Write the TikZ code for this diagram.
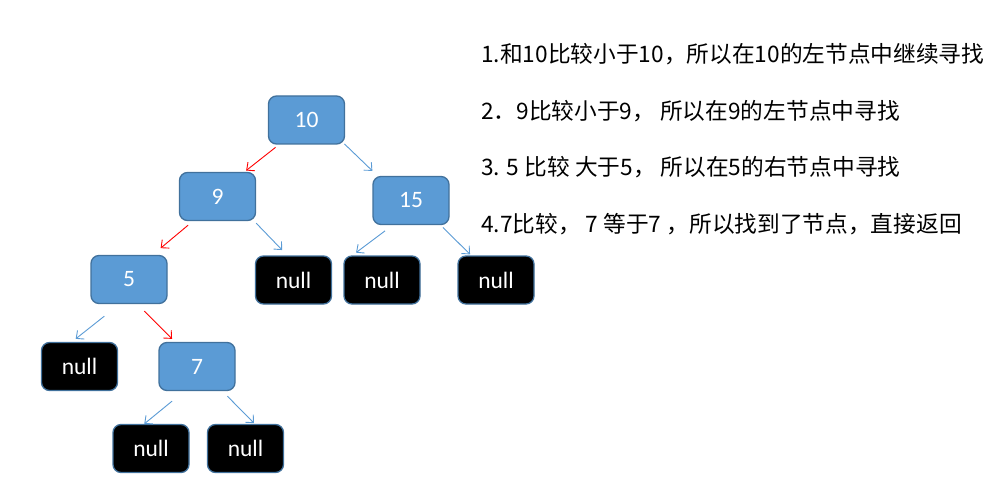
\documentclass[tikz,border=0pt]{standalone}
\usepackage{fontspec}
\setmainfont{Carlito}
\newfontfamily\cjk{Noto Sans CJK SC}
\usepackage{xcolor}
\usepackage{tikz}
\usetikzlibrary{arrows.meta}
\definecolor{boxblue}{HTML}{5B9BD5}
\definecolor{rimblue}{HTML}{41719C}

\begin{document}
\begin{tikzpicture}[x=1pt, y=-1pt,
    tnode/.style={draw=rimblue, line width=1.3pt, fill=boxblue, rounded corners=8pt,
        minimum width=76pt, minimum height=48pt, inner sep=0pt, text=white,
        font=\fontsize{23.5}{28}\selectfont},
    nullbox/.style={tnode, fill=black},
    link/.style={-{Straight Barb[length=6pt, width=11pt]}, boxblue, line width=0.9pt},
    walk/.style={link, red},
    note/.style={anchor=west, inner sep=0pt, font=\cjk\fontsize{22.7}{27}\selectfont}]
    \useasboundingbox (0,0) rectangle (1006,497);
    % tree
    \node[tnode] (n10) at (306.5,120) {10};
    \node[tnode] (n9) at (217.5,196.5) {9};
    \node[tnode] (n15) at (411,200.5) {15};
    \node[tnode] (n5) at (129,279.5) {5};
    \node[nullbox] (n9r) at (293.5,280) {null};
    \node[nullbox] (n15l) at (382,280) {null};
    \node[nullbox] (n15r) at (496,280) {null};
    \node[nullbox] (n5l) at (79.5,366.5) {null};
    \node[tnode] (n7) at (197,366.5) {7};
    \node[nullbox] (n7l) at (151,448.5) {null};
    \node[nullbox] (n7r) at (245.5,448.5) {null};
    % search path
    \draw[walk] ([shift={(7.7,2.7)}]n10.south west) -- ([shift={(-10,-1.3)}]n9.north east);
    \draw[walk] ([shift={(9.3,4)}]n9.south west) -- ([shift={(-7,-6.7)}]n5.north east);
    \draw[walk] ([shift={(15.3,7)}]n5.south) -- ([shift={(13.7,-3)}]n7.north west);
    % other edges
    \draw[link] ([shift={(-0.7,-0.7)}]n10.south east) -- ([shift={(0,-5)}]n15.north west);
    \draw[link] ([shift={(0,2)}]n9.south east) -- ([shift={(27.3,-5.3)}]n9r.north west);
    \draw[link] ([shift={(12.7,5.7)}]n15.south west) -- ([shift={(12.7,-2.7)}]n15l.north west);
    \draw[link] ([shift={(-6.7,2.3)}]n15.south east) -- ([shift={(12.7,-1)}]n15r.north west);
    \draw[link] ([shift={(14,12)}]n5.south west) -- ([shift={(-3.8,-3)}]n5l.north);
    \draw[link] ([shift={(13.7,10)}]n7.south west) -- ([shift={(-6.7,0)}]n7l.north);
    \draw[link] ([shift={(-8.3,5)}]n7.south east) -- ([shift={(8.5,-0.7)}]n7r.north);
    % steps
    \node[note] (s1) at (481,54) {1.和10比较小于10，所以在10的左节点中继续寻找};
    \node[note] (s2) at (481,111) {2．9比较小于9， 所以在9的左节点中寻找};
    \node[note] (s3) at (481,167) {3. 5 比较 大于5， 所以在5的右节点中寻找};
    \node[note] (s4) at (481,224) {4.7比较， 7 等于7 ，所以找到了节点，直接返回};
\end{tikzpicture}
\end{document}
